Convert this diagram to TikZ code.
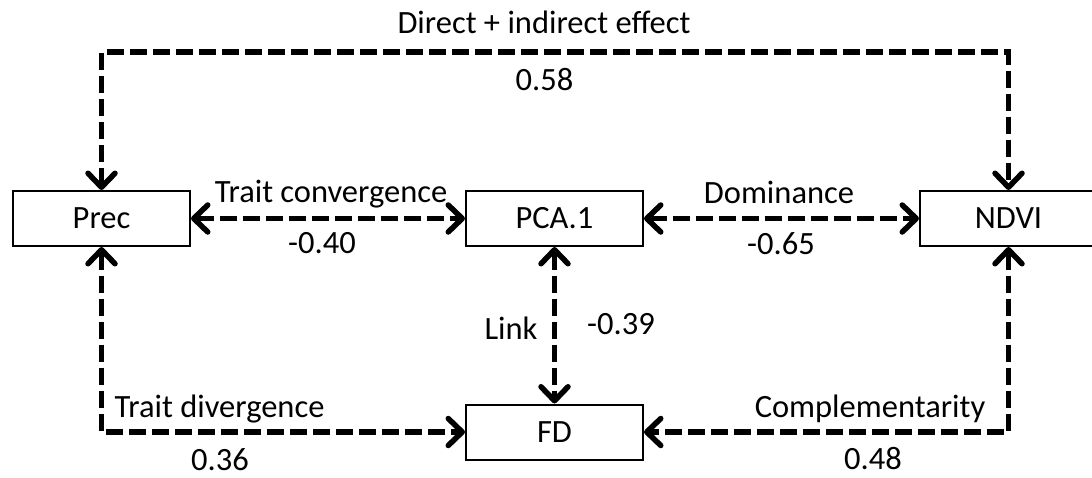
\documentclass[tikz,border=0pt]{standalone}
\usepackage{fontspec}
\setmainfont{Carlito}
\usetikzlibrary{arrows.meta}
\begin{document}
\begin{tikzpicture}[x=1pt,y=-1pt,
  font=\fontsize{32.5}{38}\selectfont,
  var/.style={draw, line width=2pt, minimum width=177pt, minimum height=55pt, inner sep=0pt},
  conn/.style={line width=5.5pt, dash pattern=on 17pt off 6pt,
    {Straight Barb[round,length=14pt,width=27pt]}-{Straight Barb[round,length=14pt,width=27pt]}},
  lbl/.style={anchor=base, inner sep=0pt}]
\useasboundingbox (0,0) rectangle (1092,477);

% variables
\node[var] (prec) at (101.5,218.5) {Prec};
\node[var] (pca)  at (554.5,218.5) {PCA.1};
\node[var] (ndvi) at (1008.5,218.5) {NDVI};
\node[var] (fd)   at (554.5,432) {FD};

% height of the upper bracket
\coordinate (top) at (544,52);

% connectors
\draw[conn] (prec.north) |- (top) -| (ndvi.north);
\draw[conn] (prec.east) -- (pca.west);
\draw[conn] (pca.east) -- (ndvi.west);
\draw[conn] (pca.south) -- (fd.north);
\draw[conn] (prec.south) |- (fd.west);
\draw[conn] (ndvi.south) |- (fd.east);

% labels and coefficients
\node[lbl] (l1) at (544,33.5) {Direct + indirect effect};
\node[lbl] (c1) at (544.5,90) {0.58};
\node[lbl] (l2) at (331,202) {Trait convergence};
\node[lbl] (c2) at (322,253) {-0.40};
\node[lbl] (l3) at (779,203) {Dominance};
\node[lbl] (c3) at (781,254) {-0.65};
\node[lbl] (l4) at (511,339) {Link};
\node[lbl] (c4) at (621,334) {-0.39};
\node[lbl] (l5) at (219.5,417) {Trait divergence};
\node[lbl] (c5) at (220,470) {0.36};
\node[lbl] (l6) at (870,417) {Complementarity};
\node[lbl] (c6) at (873,469.5) {0.48};
\end{tikzpicture}
\end{document}
